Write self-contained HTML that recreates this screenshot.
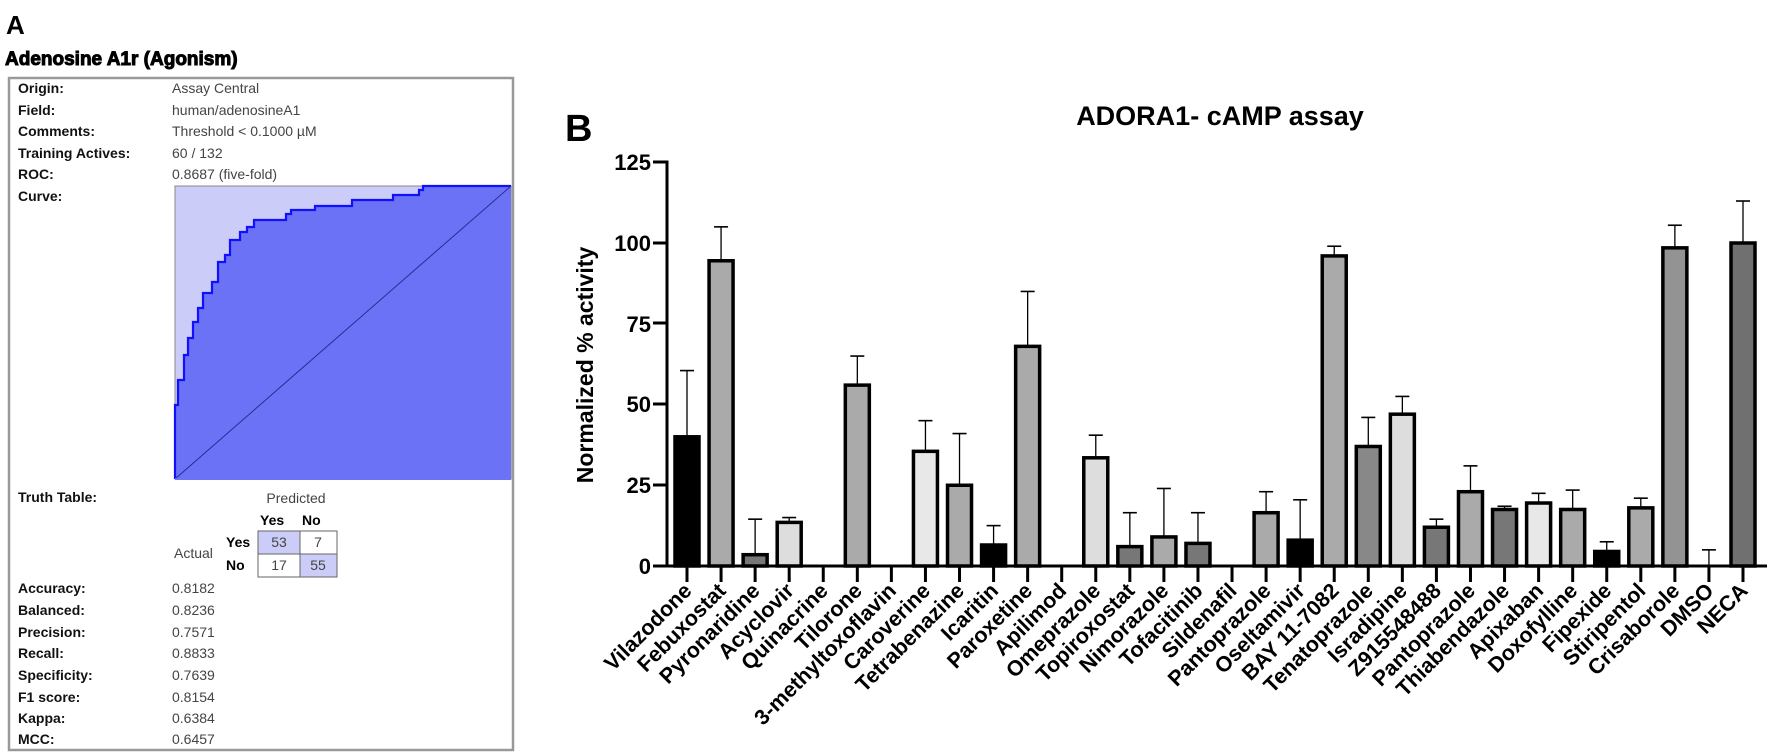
<!DOCTYPE html>
<html><head><meta charset="utf-8"><style>
html,body{margin:0;padding:0;background:#fff;}
svg{display:block;font-family:"Liberation Sans",Arial,sans-serif;}
</style></head><body>
<svg width="1772" height="754" viewBox="0 0 1772 754" xmlns="http://www.w3.org/2000/svg">
<!-- Panel A -->
<text x="6" y="34" font-size="26" font-weight="bold">A</text>
<text x="5" y="65" font-size="19" font-weight="bold" stroke="#000" stroke-width="1">Adenosine A1r (Agonism)</text>
<rect x="9" y="78" width="504" height="672" fill="#fff" stroke="#999" stroke-width="2.5"/>
<g font-size="14" font-weight="bold" fill="#111">
<text x="18" y="93">Origin:</text>
<text x="18" y="115">Field:</text>
<text x="18" y="136">Comments:</text>
<text x="18" y="158">Training Actives:</text>
<text x="18" y="179">ROC:</text>
<text x="18" y="201">Curve:</text>
<text x="18" y="502">Truth Table:</text>
<text x="18" y="593">Accuracy:</text>
<text x="18" y="615">Balanced:</text>
<text x="18" y="637">Precision:</text>
<text x="18" y="658">Recall:</text>
<text x="18" y="680">Specificity:</text>
<text x="18" y="702">F1 score:</text>
<text x="18" y="723">Kappa:</text>
<text x="18" y="744">MCC:</text>
</g>
<g font-size="14" fill="#444">
<text x="172" y="93">Assay Central</text>
<text x="172" y="115">human/adenosineA1</text>
<text x="172" y="136">Threshold &lt; 0.1000 µM</text>
<text x="172" y="158">60 / 132</text>
<text x="172" y="179">0.8687 (five-fold)</text>
<text x="172" y="593">0.8182</text>
<text x="172" y="615">0.8236</text>
<text x="172" y="637">0.7571</text>
<text x="172" y="658">0.8833</text>
<text x="172" y="680">0.7639</text>
<text x="172" y="702">0.8154</text>
<text x="172" y="723">0.6384</text>
<text x="172" y="744">0.6457</text>
</g>
<!-- ROC -->
<rect x="175" y="186" width="336" height="293" fill="#ccccf8" stroke="#888" stroke-width="1"/>
<polygon fill="#6b72f6" points="175,479 175,405 178,405 178,380 184,380 184,355 188,355 188,338 193,338 193,322 198,322 198,308 203,308 203,293 212,293 212,282 218,282 218,262 225,262 225,255 230,255 230,240 240,240 240,232 247,232 247,227 254,227 254,220 286,220 286,214 291,214 291,210 315,210 315,206 352,206 352,200 393,200 393,195 419,195 419,190 423,190 423,186 511,186 511,479"/>
<polyline fill="none" stroke="#1010ff" stroke-width="2.2" points="175,479 175,405 178,405 178,380 184,380 184,355 188,355 188,338 193,338 193,322 198,322 198,308 203,308 203,293 212,293 212,282 218,282 218,262 225,262 225,255 230,255 230,240 240,240 240,232 247,232 247,227 254,227 254,220 286,220 286,214 291,214 291,210 315,210 315,206 352,206 352,200 393,200 393,195 419,195 419,190 423,190 423,186 511,186"/>
<line x1="175" y1="479" x2="511" y2="186" stroke="#2a2a90" stroke-width="1"/>
<line x1="175" y1="479" x2="511" y2="479" stroke="#6b72f6" stroke-width="2"/>
<!-- truth table -->
<text x="296" y="503" font-size="14" fill="#444" text-anchor="middle">Predicted</text>
<text x="260" y="525" font-size="14" font-weight="bold">Yes</text>
<text x="302" y="525" font-size="14" font-weight="bold">No</text>
<text x="174" y="558" font-size="14" fill="#444">Actual</text>
<text x="226" y="547" font-size="14" font-weight="bold">Yes</text>
<text x="226" y="570" font-size="14" font-weight="bold">No</text>
<rect x="258" y="531" width="42" height="23" fill="#ccccf8" stroke="#666"/>
<rect x="300" y="531" width="37" height="23" fill="#fff" stroke="#666"/>
<rect x="258" y="554" width="42" height="23" fill="#fff" stroke="#666"/>
<rect x="300" y="554" width="37" height="23" fill="#ccccf8" stroke="#666"/>
<g font-size="14" fill="#444" text-anchor="middle">
<text x="279" y="547">53</text><text x="318" y="547">7</text>
<text x="279" y="570">17</text><text x="318" y="570">55</text>
</g>
<!-- Panel B -->
<text x="565" y="141" font-size="38" font-weight="bold">B</text>
<text x="1220" y="125" font-size="27" font-weight="bold" text-anchor="middle">ADORA1- cAMP assay</text>
<text transform="translate(593,365) rotate(-90)" font-size="23" font-weight="bold" text-anchor="middle">Normalized % activity</text>
<g font-size="22" font-weight="bold" text-anchor="end">
<text x="651" y="170">125</text>
<text x="651" y="251">100</text>
<text x="651" y="332">75</text>
<text x="651" y="412">50</text>
<text x="651" y="493">25</text>
<text x="651" y="574">0</text>
</g>
<g stroke="#000" stroke-width="3">
<line x1="667" y1="160.5" x2="667" y2="567.5"/>
<line x1="653" y1="162" x2="667" y2="162"/>
<line x1="653" y1="243" x2="667" y2="243"/>
<line x1="653" y1="323" x2="667" y2="323"/>
<line x1="653" y1="404" x2="667" y2="404"/>
<line x1="653" y1="485" x2="667" y2="485"/>
<line x1="653" y1="566" x2="1767" y2="566"/>
</g>
<g id="bars"></g>
<g id="labels" font-size="21.5" font-weight="bold"></g>
</svg>
<script>
var d=[["Vilazodone",40,60.5,"#000"],["Febuxostat",94.5,105,"#aaa"],["Pyronaridine",3.5,14.5,"#777"],["Acyclovir",13.5,15,"#ddd"],["Quinacrine",0,0,""],["Tilorone",56,65,"#aaa"],["3-methyltoxoflavin",0,0,""],["Caroverine",35.5,45,"#e8e8e8"],["Tetrabenazine",25,41,"#aaa"],["Icaritin",6.5,12.5,"#000"],["Paroxetine",68,85,"#aaa"],["Apilimod",0,0,""],["Omeprazole",33.5,40.5,"#ddd"],["Topiroxostat",6,16.5,"#777"],["Nimorazole",9,24,"#aaa"],["Tofacitinib",7,16.5,"#777"],["Sildenafil",0,0,""],["Pantoprazole",16.5,23,"#aaa"],["Oseltamivir",8,20.5,"#000"],["BAY 11-7082",96,99,"#aaa"],["Tenatoprazole",37,46,"#888"],["Isradipine",47,52.5,"#ddd"],["Z915548488",12,14.5,"#777"],["Pantoprazole",23,31,"#aaa"],["Thiabendazole",17.5,18.5,"#777"],["Apixaban",19.5,22.5,"#e8e8e8"],["Doxofylline",17.5,23.5,"#aaa"],["Fipexide",4.5,7.5,"#000"],["Stiripentol",18,21,"#aaa"],["Crisaborole",98.5,105.5,"#939393"],["DMSO",0,5,""],["NECA",100,113,"#707070"]];
var ns="http://www.w3.org/2000/svg",B=document.getElementById("bars"),L=document.getElementById("labels");
function Y(v){return 566-v*3.23;}
function el(t,a,p){var e=document.createElementNS(ns,t);for(var k in a)e.setAttribute(k,a[k]);p.appendChild(e);return e;}
var n=d.length,x0=687,x1=1743,sp=(x1-x0)/(n-1);
d.forEach(function(r,i){var cx=x0+i*sp;
 if(r[2]>r[1]){el("line",{x1:cx,x2:cx,y1:Y(r[1]),y2:Y(r[2]),stroke:"#000","stroke-width":1.3},B);
  el("line",{x1:cx-7,x2:cx+7,y1:Y(r[2]),y2:Y(r[2]),stroke:"#000","stroke-width":1.6},B);}
 if(r[1]>0){el("rect",{x:cx-12,y:Y(r[1]),width:24,height:566-Y(r[1]),fill:r[3],stroke:"#000","stroke-width":3.5},B);}
 el("line",{x1:cx,x2:cx,y1:566,y2:582,stroke:"#000","stroke-width":3},B);
 var t=el("text",{x:cx+6,y:592,"text-anchor":"end",transform:"rotate(-45 "+(cx+6)+" 592)"},L);t.textContent=r[0];
});
</script>
</body></html>
